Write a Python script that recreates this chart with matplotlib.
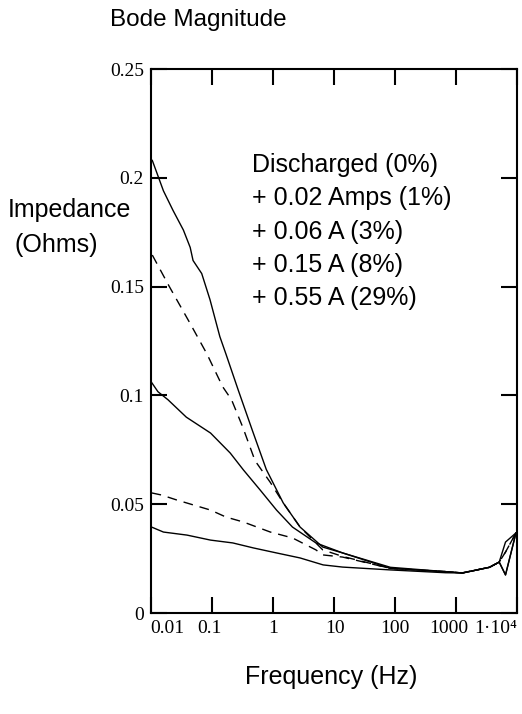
import numpy as np
import matplotlib
matplotlib.use('Agg')
import matplotlib.pyplot as plt
import matplotlib.transforms as mtransforms

# Bode magnitude data, frequency in Hz, impedance in Ohms
f_0 = [0.0105, 0.016, 0.023, 0.034, 0.044, 0.049, 0.068, 0.093, 0.135, 0.17, 0.27,
       0.46, 0.78, 1.48, 2.8, 6.6, 14, 85, 690, 1300, 3600, 5200, 6600, 9800]
z_0 = [0.208, 0.194, 0.185, 0.176, 0.168, 0.162, 0.156, 0.144, 0.127, 0.119, 0.1025,
       0.084, 0.066, 0.0506, 0.0395, 0.0303, 0.0276, 0.021, 0.019, 0.0184, 0.021, 0.0234, 0.0326, 0.0368]

f_1 = [0.0105, 0.020, 0.044, 0.083, 0.15, 0.21, 0.32, 0.51, 0.91, 1.48, 2.8, 6.6, 14,
       85, 690, 1300, 3600, 5200, 6600, 9800]
z_1 = [0.1645, 0.150, 0.133, 0.119, 0.104, 0.098, 0.0855, 0.070, 0.060, 0.0506, 0.0395, 0.029, 0.026,
       0.0205, 0.019, 0.0185, 0.021, 0.0234, 0.028, 0.0368]

f_3 = [0.0102, 0.013, 0.019, 0.038, 0.095, 0.20, 0.33, 0.62, 1.15, 2.1, 5.1, 14,
       85, 690, 1300, 3600, 5200, 6600, 9800]
z_3 = [0.106, 0.1017, 0.098, 0.090, 0.0827, 0.0735, 0.0657, 0.0565, 0.0473, 0.0395, 0.0322, 0.0276,
       0.0205, 0.019, 0.0184, 0.021, 0.0234, 0.0175, 0.0368]

f_8 = [0.0102, 0.015, 0.026, 0.095, 0.17, 0.33, 0.91, 2.1, 5.1, 6.6, 14,
       85, 690, 1300, 3600, 5200, 6600, 9800]
z_8 = [0.0552, 0.0542, 0.052, 0.0473, 0.0441, 0.0418, 0.0372, 0.0345, 0.029, 0.0267, 0.0257,
       0.0205, 0.019, 0.0184, 0.021, 0.0234, 0.028, 0.0368]

f_29 = [0.0102, 0.016, 0.039, 0.095, 0.22, 0.48, 1.15, 2.8, 6.7, 14,
        85, 690, 1300, 3600, 5200, 6600, 9800]
z_29 = [0.0395, 0.0372, 0.0358, 0.0335, 0.0322, 0.0299, 0.0276, 0.0253, 0.0221, 0.0211,
        0.0198, 0.0185, 0.0184, 0.021, 0.0234, 0.0175, 0.0368]

legend_lines = ['Discharged (0%)', '+ 0.02 Amps (1%)', '+ 0.06 A (3%)',
                '+ 0.15 A (8%)', '+ 0.55 A (29%)']
x_ticks = [0.01, 0.1, 1, 10, 100, 1000, 10000]
x_labels = ['0.01', '0.1', '1', '10', '100', '1000', '1\u00b710\u2074']
y_ticks = [0, 0.05, 0.1, 0.15, 0.2, 0.25]
y_labels = ['0', '0.05', '0.1', '0.15', '0.2', '0.25']

sans = ['Liberation Sans', 'DejaVu Sans']
serif = ['Liberation Serif', 'DejaVu Serif']

fig = plt.figure(figsize=(5.22, 7.14), dpi=100)
ax = fig.add_axes([151/522, 1-613/714, 365.5/522, 544/714])

ax.plot(f_0, z_0, color='black', lw=1.0)
ax.plot(f_1, z_1, color='black', lw=1.0, dashes=(7, 5))
ax.plot(f_3, z_3, color='black', lw=1.0)
ax.plot(f_8, z_8, color='black', lw=1.0, dashes=(7, 5))
ax.plot(f_29, z_29, color='black', lw=1.0)

ax.set_xscale('log')
ax.set_xlim(0.01, 10000)
ax.set_ylim(0, 0.25)
ax.minorticks_off()

ax.set_xticks(x_ticks)
ax.set_xticklabels(x_labels, family=serif, fontsize=14)
ax.set_yticks(y_ticks)
ax.set_yticklabels(y_labels, family=serif, fontsize=14)
ax.tick_params(direction='in', length=11.5, width=1.5, top=True, right=True, pad=5)

for sp in ax.spines.values():
    sp.set_linewidth(1.5)

# shift the end labels like in the original (kept just apart)
offsets = [16, -2, 0, 1, 0, -7, -21]
for lab, dx in zip(ax.get_xticklabels(), offsets):
    lab.set_transform(lab.get_transform() + mtransforms.ScaledTranslation(dx/100, 0, fig.dpi_scale_trans))

fig.text(110/522, 1-20/714, 'Bode Magnitude', family=sans, fontsize=17.5, va='center')
fig.text(8/522, 1-210/714, 'Impedance', family=sans, fontsize=18, va='center')
fig.text(15/522, 1-245/714, '(Ohms)', family=sans, fontsize=18, va='center')
fig.text(331/522, 1-677/714, 'Frequency (Hz)', family=sans, fontsize=18, va='center', ha='center')

for i, s in enumerate(legend_lines):
    fig.text(252/522, 1-(165+33.3*i)/714, s, family=sans, fontsize=18, va='center')

fig.savefig('out.png', dpi=100)
